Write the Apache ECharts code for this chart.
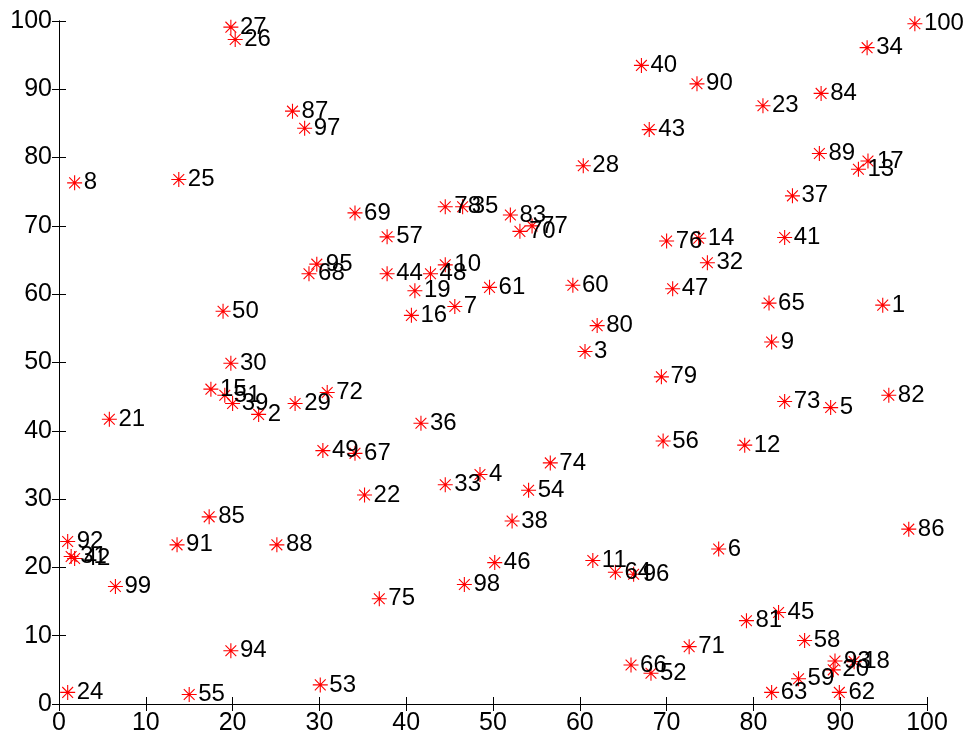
<!DOCTYPE html>
<html>
<head>
<meta charset="utf-8">
<script src="https://cdn.jsdelivr.net/npm/echarts@6/dist/echarts.min.js"></script>
<style>html,body{margin:0;padding:0;background:#fff}#c{width:972px;height:738px}</style>
</head>
<body>
<div id="c"></div>
<script>
const ids = [];
for (let i = 1; i <= 100; i++) ids.push(String(i));
const xs = [94.9,23.0,60.6,48.5,88.9,76.0,45.6,1.8,82.1,44.5,
  61.5,79.0,92.1,73.7,17.5,40.6,93.2,91.6,41.0,89.2,
  5.8,35.2,81.1,1.0,13.8,20.3,19.8,60.4,27.2,19.8,
  1.4,74.7,44.5,93.1,46.5,41.7,84.5,52.2,20.0,67.1,
  83.6,1.8,68.0,37.8,82.9,50.2,70.7,42.8,30.4,18.9,
  19.1,68.2,30.1,54.1,15.0,69.6,37.8,85.9,85.2,59.2,
  49.6,89.9,82.1,64.1,81.8,65.9,34.1,28.8,34.1,53.1,
  72.6,30.9,83.6,56.6,36.9,70.0,54.5,44.5,69.4,62.0,
  79.2,95.6,52.0,87.8,17.3,97.9,26.9,25.1,87.6,73.5,
  13.6,1.0,89.4,19.8,29.7,66.2,28.3,46.7,6.5,98.6];
const ys = [58.4,42.4,51.6,33.6,43.4,22.7,58.2,76.3,53.0,64.3,
  21.0,37.9,78.3,68.2,46.1,56.9,79.5,6.2,60.5,5.0,
  41.7,30.6,87.6,1.7,76.8,97.3,99.1,78.8,44.0,49.9,
  21.6,64.6,32.1,96.1,72.8,41.1,74.4,26.8,44.0,93.5,
  68.3,21.3,84.1,63.0,13.4,20.7,60.8,63.0,37.1,57.5,
  45.2,4.5,2.8,31.3,1.4,38.5,68.4,9.3,3.7,61.3,
  61.0,1.7,1.7,19.3,58.7,5.7,36.7,63.0,71.9,69.2,
  8.4,45.6,44.3,35.3,15.4,67.8,70.0,72.8,47.9,55.4,
  12.2,45.2,71.6,89.4,27.4,25.6,86.8,23.3,80.6,90.8,
  23.3,23.8,6.3,7.8,64.4,19.0,84.3,17.5,17.2,99.6];
const xTicks = [0,10,20,30,40,50,60,70,80,90,100];
const yTicks = [0,10,20,30,40,50,60,70,80,90,100];

const pts = ids.map((id, i) => ({ value: [xs[i], ys[i]], name: id }));
const FONT = '"Liberation Sans", Arial, sans-serif';
const star = 'path://M0,-1L0,1M-1,0L1,0M-0.72,-0.72L0.72,0.72M-0.72,0.72L0.72,-0.72';

const chart = echarts.init(document.getElementById('c'), null, { renderer: 'canvas' });
const axCommon = {
  type: 'value', min: 0, max: 100, interval: 10,
  axisLine: { show: true, lineStyle: { color: '#000', width: 1 } },
  axisTick: { show: true, inside: true, length: 7, lineStyle: { color: '#000', width: 1 } },
  splitLine: { show: false }
};
chart.setOption({
  animation: false,
  backgroundColor: '#fff',
  grid: { left: 59, top: 21, width: 868, height: 683, containLabel: false },
  xAxis: [
    Object.assign({}, axCommon, { position: 'bottom',
      axisLabel: { color: '#000', fontSize: 25, fontFamily: FONT, margin: 7,
        formatter: v => xTicks.includes(v) ? String(v) : '' } }),
    Object.assign({}, axCommon, { position: 'top', axisLabel: { show: false } })
  ],
  yAxis: [
    Object.assign({}, axCommon, { position: 'left',
      axisLabel: { color: '#000', fontSize: 25, fontFamily: FONT, margin: 7,
        formatter: v => yTicks.includes(v) ? String(v) : '' } }),
    Object.assign({}, axCommon, { position: 'right', axisLabel: { show: false } })
  ],
  series: [{
    type: 'scatter',
    data: pts,
    symbol: star,
    symbolSize: 15,
    clip: false,
    itemStyle: { color: 'rgba(0,0,0,0)', borderColor: '#ff0000', borderWidth: 1.1, opacity: 1 },
    label: {
      show: true, position: 'right', distance: 1,
      formatter: p => p.name,
      color: '#000', fontSize: 24, fontFamily: FONT
    },
    labelLayout: { hideOverlap: false }
  }]
});
</script>
</body>
</html>
